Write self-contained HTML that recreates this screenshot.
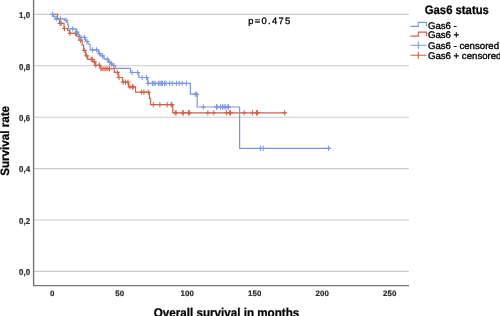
<!DOCTYPE html>
<html><head><meta charset="utf-8"><style>
html,body{margin:0;padding:0;background:#fff;width:500px;height:316px;overflow:hidden}
svg{display:block;will-change:transform}
text{font-family:"Liberation Sans",sans-serif;fill:#1a1a1a;text-rendering:geometricPrecision}
.tk{font-size:7.9px;font-weight:bold;fill:#2a2a2a;stroke:#2a2a2a;stroke-width:0.2px;letter-spacing:0.15px}
.ti{font-size:11.65px;font-weight:bold;fill:#000;stroke:#000;stroke-width:0.25px}
.lt{font-size:11.3px;font-weight:bold;fill:#000;stroke:#000;stroke-width:0.25px}
.li{font-size:9.65px;fill:#000;stroke:#000;stroke-width:0.35px}
.pv{font-size:9.4px;letter-spacing:1.3px;fill:#000;stroke:#000;stroke-width:0.32px}
</style></head><body>
<svg width="500" height="316" viewBox="0 0 500 316">
<rect width="500" height="316" fill="#fff"/>
<path d="M33.6 14.4H409M33.6 65.8H409M33.6 117.2H409M33.6 168.6H409M33.6 220.0H409M33.6 271.4H409" stroke="#cccccc" stroke-width="1.1" fill="none"/>
<path d="M33.6 0V285.6H409" stroke="#747474" stroke-width="1.4" fill="none"/>
<text transform="translate(30.40 18.10) scale(1 1.080)" class="tk" text-anchor="end">1,0</text>
<text transform="translate(30.40 69.50) scale(1 1.080)" class="tk" text-anchor="end">0,8</text>
<text transform="translate(30.40 120.90) scale(1 1.080)" class="tk" text-anchor="end">0,6</text>
<text transform="translate(30.40 172.30) scale(1 1.080)" class="tk" text-anchor="end">0,4</text>
<text transform="translate(30.40 223.70) scale(1 1.080)" class="tk" text-anchor="end">0,2</text>
<text transform="translate(30.40 275.10) scale(1 1.080)" class="tk" text-anchor="end">0,0</text>
<text transform="translate(52.30 295.80) scale(1 1.000)" class="tk" text-anchor="middle">0</text>
<text transform="translate(119.78 295.80) scale(1 1.000)" class="tk" text-anchor="middle">50</text>
<text transform="translate(187.26 295.80) scale(1 1.000)" class="tk" text-anchor="middle">100</text>
<text transform="translate(254.74 295.80) scale(1 1.000)" class="tk" text-anchor="middle">150</text>
<text transform="translate(322.22 295.80) scale(1 1.000)" class="tk" text-anchor="middle">200</text>
<text transform="translate(389.70 295.80) scale(1 1.000)" class="tk" text-anchor="middle">250</text>
<text transform="translate(226.50 316.60) scale(1 1.090)" class="ti" text-anchor="middle">Overall survival in months</text>
<text transform="translate(9.15 140.90) rotate(-90) scale(1 1.040)" class="ti" text-anchor="middle">Survival rate</text>
<text transform="translate(248.30 24.10) scale(1 1.000)" class="pv" text-anchor="start">p=0.475</text>
<rect x="100.1" y="66.4" width="8.3" height="4.8" fill="#e89a8c"/>
<path d="M51.7 14.4H57.5V18.9H59.4V23.4H64.0V28.5H67.5V30.5H69.5V33.3H76.6V36.1H79.1V40.1H82.1V45.2H83.6V50.3H85.7V55.8H87.7V59.4H92.9V61.9H95.3V65.4H100.0V68.6H114.3V72.3H118.3V77.5H122.5V82.2H128.5V86.9H135.5V92.2H149.4V98.5H150.5V104.7H172.8V112.8H286.0" stroke="#cd624d" stroke-width="1.2" fill="none"/>
<path d="M51.7 14.4H53.4V16.3H55.0V18.8H64.8V20.3H67.1V22.5H67.8V25.0H68.5V28.9H76.6V32.2H78.5V34.6H79.4V37.4H85.5V41.4H88.0V44.0H90.0V49.8H98.5V53.6H100.8V55.9H104.0V59.2H108.3V62.3H111.0V64.0H113.2V65.6H115.3V68.4H130.5V72.5H138.8V77.5H147.7V83.4H190.4V94.2H197.2V107.0H239.6V148.4H331.0" stroke="#7b97dc" stroke-width="1.2" fill="none"/>
<path d="M60.0 20.7V26.1M57.5 23.4H62.5M61.2 20.7V26.1M58.7 23.4H63.7M64.5 25.8V31.2M62.0 28.5H67.0M70.0 30.6V36.0M67.5 33.3H72.5M75.5 30.6V36.0M73.0 33.3H78.0M80.6 37.4V42.8M78.1 40.1H83.1M84.2 47.6V53.0M81.7 50.3H86.7M86.7 53.1V58.5M84.2 55.8H89.2M91.2 56.7V62.1M88.7 59.4H93.7M92.3 56.7V62.1M89.8 59.4H94.8M94.5 59.2V64.6M92.0 61.9H97.0M95.8 62.7V68.1M93.3 65.4H98.3M99.4 62.7V68.1M96.9 65.4H101.9M99.4 62.7V68.1M96.9 65.4H101.9M109.4 65.9V71.3M106.9 68.6H111.9M109.4 65.9V71.3M106.9 68.6H111.9M117.3 69.6V75.0M114.8 72.3H119.8M119.0 74.8V80.2M116.5 77.5H121.5M123.2 79.5V84.9M120.7 82.2H125.7M125.6 79.5V84.9M123.1 82.2H128.1M128.0 79.5V84.9M125.5 82.2H130.5M130.0 84.2V89.6M127.5 86.9H132.5M132.5 84.2V89.6M130.0 86.9H135.0M133.2 84.2V89.6M130.7 86.9H135.7M141.7 89.5V94.9M139.2 92.2H144.2M143.9 89.5V94.9M141.4 92.2H146.4M148.3 89.5V94.9M145.8 92.2H150.8M153.3 102.0V107.4M150.8 104.7H155.8M159.9 102.0V107.4M157.4 104.7H162.4M167.1 102.0V107.4M164.6 104.7H169.6M171.2 102.0V107.4M168.7 104.7H173.7M171.9 102.0V107.4M169.4 104.7H174.4M175.1 110.1V115.5M172.6 112.8H177.6M176.1 110.1V115.5M173.6 112.8H178.6M182.7 110.1V115.5M180.2 112.8H185.2M183.3 110.1V115.5M180.8 112.8H185.8M188.4 110.1V115.5M185.9 112.8H190.9M189.6 110.1V115.5M187.1 112.8H192.1M207.9 110.1V115.5M205.4 112.8H210.4M213.8 110.1V115.5M211.3 112.8H216.3M226.6 110.1V115.5M224.1 112.8H229.1M229.7 110.1V115.5M227.2 112.8H232.2M230.5 110.1V115.5M228.0 112.8H233.0M244.1 110.1V115.5M241.6 112.8H246.6M252.4 110.1V115.5M249.9 112.8H254.9M256.6 110.1V115.5M254.1 112.8H259.1M257.5 110.1V115.5M255.0 112.8H260.0M284.7 110.1V115.5M282.2 112.8H287.2" stroke="#cd624d" stroke-width="1.0" fill="none"/>
<path d="M52.4 11.7V17.1M49.9 14.4H54.9M56.3 16.1V21.5M53.8 18.8H58.8M60.3 16.1V21.5M57.8 18.8H62.8M66.0 17.6V23.0M63.5 20.3H68.5M72.8 26.2V31.6M70.3 28.9H75.3M77.0 29.5V34.9M74.5 32.2H79.5M81.0 34.7V40.1M78.5 37.4H83.5M84.4 34.7V40.1M81.9 37.4H86.9M87.0 38.7V44.1M84.5 41.4H89.5M92.6 47.1V52.5M90.1 49.8H95.1M96.6 47.1V52.5M94.1 49.8H99.1M99.6 50.9V56.3M97.1 53.6H102.1M102.6 53.2V58.6M100.1 55.9H105.1M107.2 56.5V61.9M104.7 59.2H109.7M109.8 59.6V65.0M107.3 62.3H112.3M111.6 61.3V66.7M109.1 64.0H114.1M113.9 62.9V68.3M111.4 65.6H116.4M132.1 69.8V75.2M129.6 72.5H134.6M137.7 69.8V75.2M135.2 72.5H140.2M142.1 74.8V80.2M139.6 77.5H144.6M146.5 74.8V80.2M144.0 77.5H149.0M148.2 80.7V86.1M145.7 83.4H150.7M152.4 80.7V86.1M149.9 83.4H154.9M153.9 80.7V86.1M151.4 83.4H156.4M155.2 80.7V86.1M152.7 83.4H157.7M158.5 80.7V86.1M156.0 83.4H161.0M160.0 80.7V86.1M157.5 83.4H162.5M161.4 80.7V86.1M158.9 83.4H163.9M162.5 80.7V86.1M160.0 83.4H165.0M164.5 80.7V86.1M162.0 83.4H167.0M166.0 80.7V86.1M163.5 83.4H168.5M169.7 80.7V86.1M167.2 83.4H172.2M172.3 80.7V86.1M169.8 83.4H174.8M176.4 80.7V86.1M173.9 83.4H178.9M179.3 80.7V86.1M176.8 83.4H181.8M182.2 80.7V86.1M179.7 83.4H184.7M186.4 80.7V86.1M183.9 83.4H188.9M195.3 91.5V96.9M192.8 94.2H197.8M196.8 91.5V96.9M194.3 94.2H199.3M203.4 104.2V109.7M200.9 107.0H205.9M216.5 104.2V109.7M214.0 107.0H219.0M217.1 104.2V109.7M214.6 107.0H219.6M220.5 104.2V109.7M218.0 107.0H223.0M222.5 104.2V109.7M220.0 107.0H225.0M224.1 104.2V109.7M221.6 107.0H226.6M225.7 104.2V109.7M223.2 107.0H228.2M227.9 104.2V109.7M225.4 107.0H230.4M228.6 104.2V109.7M226.1 107.0H231.1M260.4 145.7V151.1M257.9 148.4H262.9M263.2 145.7V151.1M260.7 148.4H265.7M328.6 145.7V151.1M326.1 148.4H331.1" stroke="#7b97dc" stroke-width="1.0" fill="none"/>
<text transform="translate(424.80 13.80) scale(1 1.080)" class="lt" text-anchor="start">Gas6 status</text>
<path d="M410.4 26.4H418.3V22.4H426.4V26.4" stroke="#7b97dc" stroke-width="1.1" fill="none"/>
<text transform="translate(427.90 28.60) scale(1 1.000)" class="li" text-anchor="start">Gas6 -</text>
<path d="M410.4 36.1H418.3V32.1H426.4V36.1" stroke="#cd624d" stroke-width="1.1" fill="none"/>
<text transform="translate(427.90 38.30) scale(1 1.000)" class="li" text-anchor="start">Gas6 +</text>
<path d="M410.4 45.3H426.4M418.3 41.8V48.8" stroke="#7b97dc" stroke-width="1.1" fill="none"/>
<text transform="translate(427.90 48.60) scale(1 1.000)" class="li" text-anchor="start">Gas6 - censored</text>
<path d="M410.4 55.2H426.4M418.3 51.7V58.7" stroke="#cd624d" stroke-width="1.1" fill="none"/>
<text transform="translate(427.90 58.50) scale(1 1.000)" class="li" text-anchor="start">Gas6 + censored</text>
</svg>
</body></html>
